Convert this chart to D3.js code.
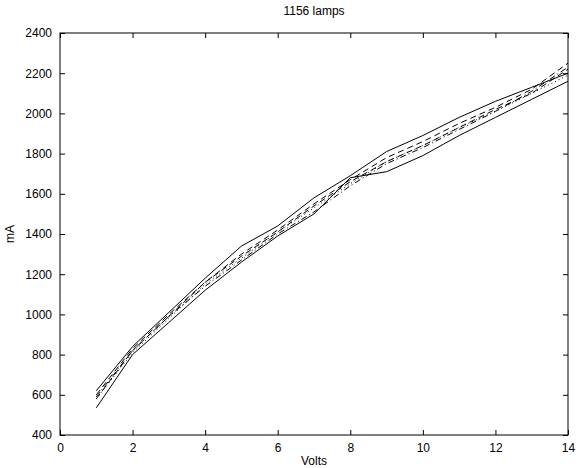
<!DOCTYPE html>
<html>
<head>
<meta charset="utf-8">
<script src="https://cdn.jsdelivr.net/npm/d3@7"></script>
<style>
  body { margin: 0; background: #fff; }
  text { font-family: "Liberation Sans", Arial, sans-serif; }
</style>
</head>
<body>
<svg class="chart" width="579" height="468"></svg>
<script>
var volts = [1, 2, 3, 4, 5, 6, 7, 8, 9, 10, 11, 12, 13, 14];

var lampA = [620, 840, 1010, 1180, 1340, 1440, 1580, 1690, 1810, 1890, 1980, 2060, 2130, 2200];
var lampB = [600, 830, 1000, 1160, 1300, 1420, 1550, 1670, 1780, 1860, 1950, 2030, 2120, 2250];
var lampC = [580, 810, 980, 1150, 1280, 1410, 1530, 1650, 1760, 1840, 1930, 2010, 2100, 2190];
var lampD = [590, 820, 990, 1140, 1270, 1400, 1510, 1640, 1750, 1830, 1920, 2010, 2110, 2230];
var lampE = [535, 800, 960, 1120, 1260, 1390, 1500, 1680, 1710, 1790, 1890, 1980, 2070, 2160];
var lampF = [580, 820, 990, 1160, 1290, 1410, 1540, 1660, 1760, 1840, 1930, 2020, 2100, 2220];

var lamps = [lampA, lampB, lampC, lampD, lampE, lampF];
// matlab style cycle: -, --, :, -.
var dashes = [null, "6,4", "1,3", "6,3,1,3", null, "6,4"];

var xTicks = [0, 2, 4, 6, 8, 10, 12, 14];
var yTicks = [400, 600, 800, 1000, 1200, 1400, 1600, 1800, 2000, 2200, 2400];

var margin = { left: 60, right: 11, top: 33, bottom: 33 };
var width = 579 - margin.left - margin.right;
var height = 468 - margin.top - margin.bottom;

var chart = d3.select(".chart");
var g = chart.append("g")
    .attr("transform", "translate(" + margin.left + "," + margin.top + ")");

var x = d3.scaleLinear().domain([0, 14]).range([0, width]);
var y = d3.scaleLinear().domain([400, 2400]).range([height, 0]);

var tickLen = 5;
var fmt = d3.format("d");

var styleAxis = function(sel) {
    sel.selectAll(".domain").remove();
    sel.selectAll("line").attr("stroke", "#000");
    sel.selectAll("text").attr("font-size", "12px").attr("fill", "#000");
};

g.append("g")
    .attr("transform", "translate(0," + height + ")")
    .call(d3.axisBottom(x).tickValues(xTicks).tickSizeInner(-tickLen).tickSizeOuter(0).tickPadding(8).tickFormat(fmt))
    .call(styleAxis);
g.append("g")
    .call(d3.axisTop(x).tickValues(xTicks).tickSizeInner(-tickLen).tickSizeOuter(0).tickFormat(""))
    .call(styleAxis);
g.append("g")
    .call(d3.axisLeft(y).tickValues(yTicks).tickSizeInner(-tickLen).tickSizeOuter(0).tickPadding(8).tickFormat(fmt))
    .call(styleAxis);
g.append("g")
    .attr("transform", "translate(" + width + ",0)")
    .call(d3.axisRight(y).tickValues(yTicks).tickSizeInner(-tickLen).tickSizeOuter(0).tickFormat(""))
    .call(styleAxis);

g.append("rect")
    .attr("width", width)
    .attr("height", height)
    .attr("fill", "none")
    .attr("stroke", "#000")
    .attr("stroke-width", 1);

var line = d3.line()
    .x(function(d, i) { return x(volts[i]); })
    .y(function(d) { return y(d); });

g.selectAll("path.lamp")
    .data(lamps)
  .enter()
    .append("path")
    .attr("class", "lamp")
    .attr("d", line)
    .attr("fill", "none")
    .attr("stroke", "#000")
    .attr("stroke-width", 1)
    .attr("stroke-dasharray", function(d, i) { return dashes[i]; });

chart.append("text")
    .attr("x", margin.left + width / 2)
    .attr("y", 15)
    .attr("text-anchor", "middle")
    .attr("font-size", "12px")
    .text("1156 lamps");

chart.append("text")
    .attr("x", margin.left + width / 2)
    .attr("y", 465)
    .attr("text-anchor", "middle")
    .attr("font-size", "12px")
    .text("Volts");

chart.append("text")
    .attr("transform", "translate(14," + (margin.top + height / 2) + ") rotate(-90)")
    .attr("text-anchor", "middle")
    .attr("font-size", "12px")
    .text("mA");
</script>
</body>
</html>
